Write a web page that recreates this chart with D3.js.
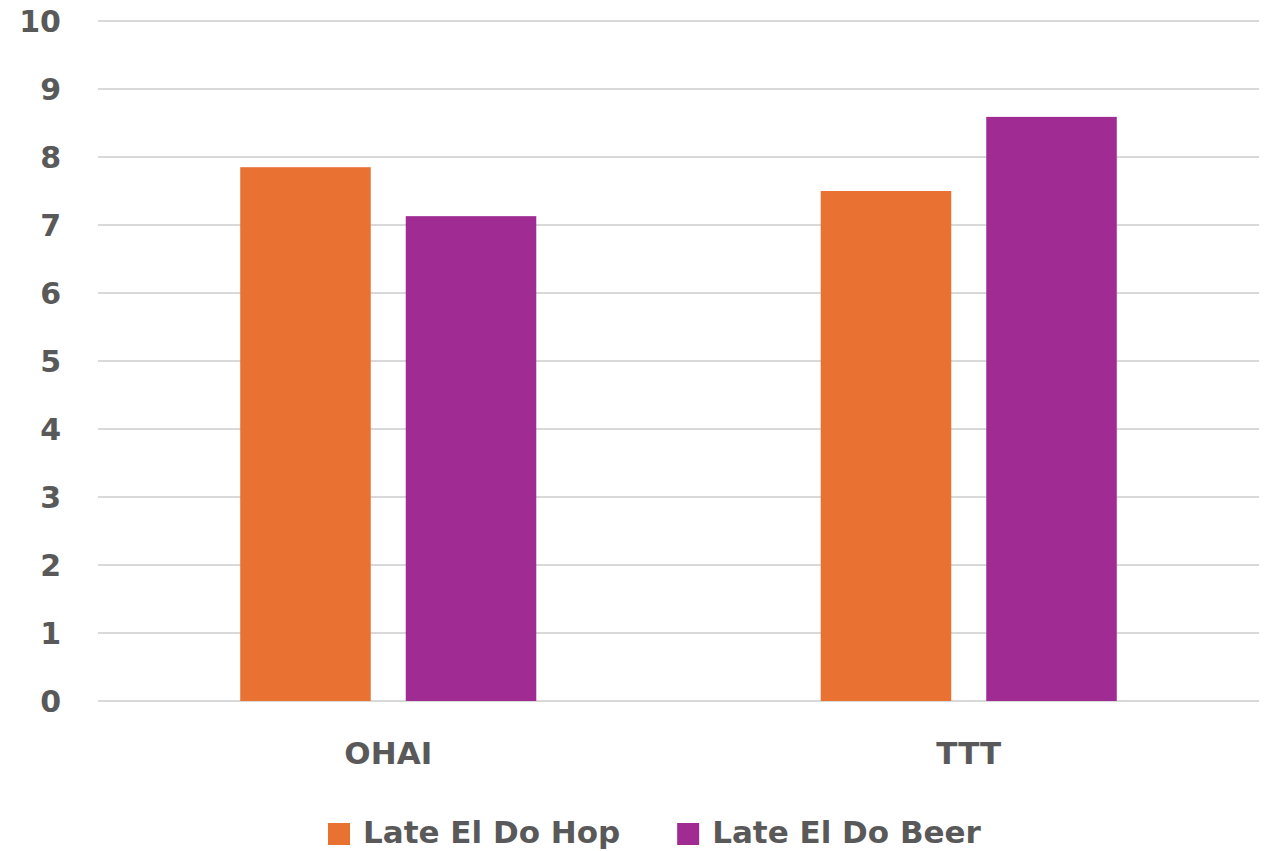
<!DOCTYPE html>
<html>
<head>
<meta charset="utf-8">
<script src="https://cdn.jsdelivr.net/npm/d3@7"></script>
<style>
  html, body { margin: 0; padding: 0; background: #ffffff; }
  svg { display: block; }
  text { font-family: "DejaVu Sans", "Liberation Sans", sans-serif; font-weight: 700; fill: #595959; }
</style>
</head>
<body>
<svg id="chart" width="1268" height="851"></svg>
<script>
// Chart data
const categories = ["OHAI", "TTT"];
const seriesNames = ["Late El Do Hop", "Late El Do Beer"];
const hopValues = [7.85, 7.5];
const beerValues = [7.13, 8.59];
const yTicks = [0, 1, 2, 3, 4, 5, 6, 7, 8, 9, 10];
const seriesColors = ["#E97132", "#A02B93"];

const seriesValues = [hopValues, beerValues];

const svg = d3.select("#chart");

const plot = { left: 98, right: 1259, top: 21, bottom: 701 };

const y = d3.scaleLinear().domain([0, 10]).range([plot.bottom, plot.top]);
const x0 = d3.scaleBand()
  .domain(categories)
  .range([plot.left, plot.right])
  .paddingInner(0.49)
  .paddingOuter(0.245);
const x1 = d3.scaleBand()
  .domain(seriesNames)
  .range([0, x0.bandwidth()])
  .paddingInner(0.2115);
const color = d3.scaleOrdinal().domain(seriesNames).range(seriesColors);

// Horizontal gridlines
svg.append("g")
  .selectAll("line")
  .data(yTicks)
  .join("line")
  .attr("x1", plot.left)
  .attr("x2", plot.right)
  .attr("y1", d => y(d))
  .attr("y2", d => y(d))
  .attr("stroke", "#d9d9d9")
  .attr("stroke-width", 2);

// Y axis labels
const yAxis = d3.axisLeft(y).tickValues(yTicks).tickSize(0).tickPadding(0);
const yg = svg.append("g")
  .attr("transform", "translate(61,0)")
  .call(yAxis);
yg.select(".domain").remove();
yg.attr("font-family", null).attr("font-size", null);
yg.selectAll("text")
  .attr("font-size", 30)
  .attr("dy", "0.36em");

// Bars
const groups = svg.append("g")
  .selectAll("g")
  .data(categories)
  .join("g")
  .attr("transform", c => `translate(${x0(c)},0)`);

groups.selectAll("rect")
  .data((c, i) => seriesNames.map((s, j) => ({ s, v: seriesValues[j][i] })))
  .join("rect")
  .attr("x", d => x1(d.s))
  .attr("width", x1.bandwidth())
  .attr("y", d => y(d.v))
  .attr("height", d => y(0) - y(d.v))
  .attr("fill", d => color(d.s));

// Category labels
const xAxis = d3.axisBottom(x0).tickSize(0).tickPadding(0);
const xg = svg.append("g")
  .attr("transform", `translate(0,${plot.bottom})`)
  .call(xAxis);
xg.select(".domain").remove();
xg.attr("font-family", null).attr("font-size", null);
xg.selectAll("text")
  .attr("font-size", 31)
  .attr("dy", null)
  .attr("y", 63);

// Legend
const legend = svg.append("g").attr("transform", "translate(328,0)");
let lx = 0;
seriesNames.forEach((s, i) => {
  const item = legend.append("g").attr("transform", `translate(${lx},0)`);
  item.append("rect")
    .attr("x", 0).attr("y", 823)
    .attr("width", 22).attr("height", 22)
    .attr("fill", color(s));
  const t = item.append("text")
    .attr("x", 35).attr("y", 843)
    .attr("font-size", 31)
    .text(s);
  lx += 35 + t.node().getComputedTextLength() + 57;
});
</script>
</body>
</html>
